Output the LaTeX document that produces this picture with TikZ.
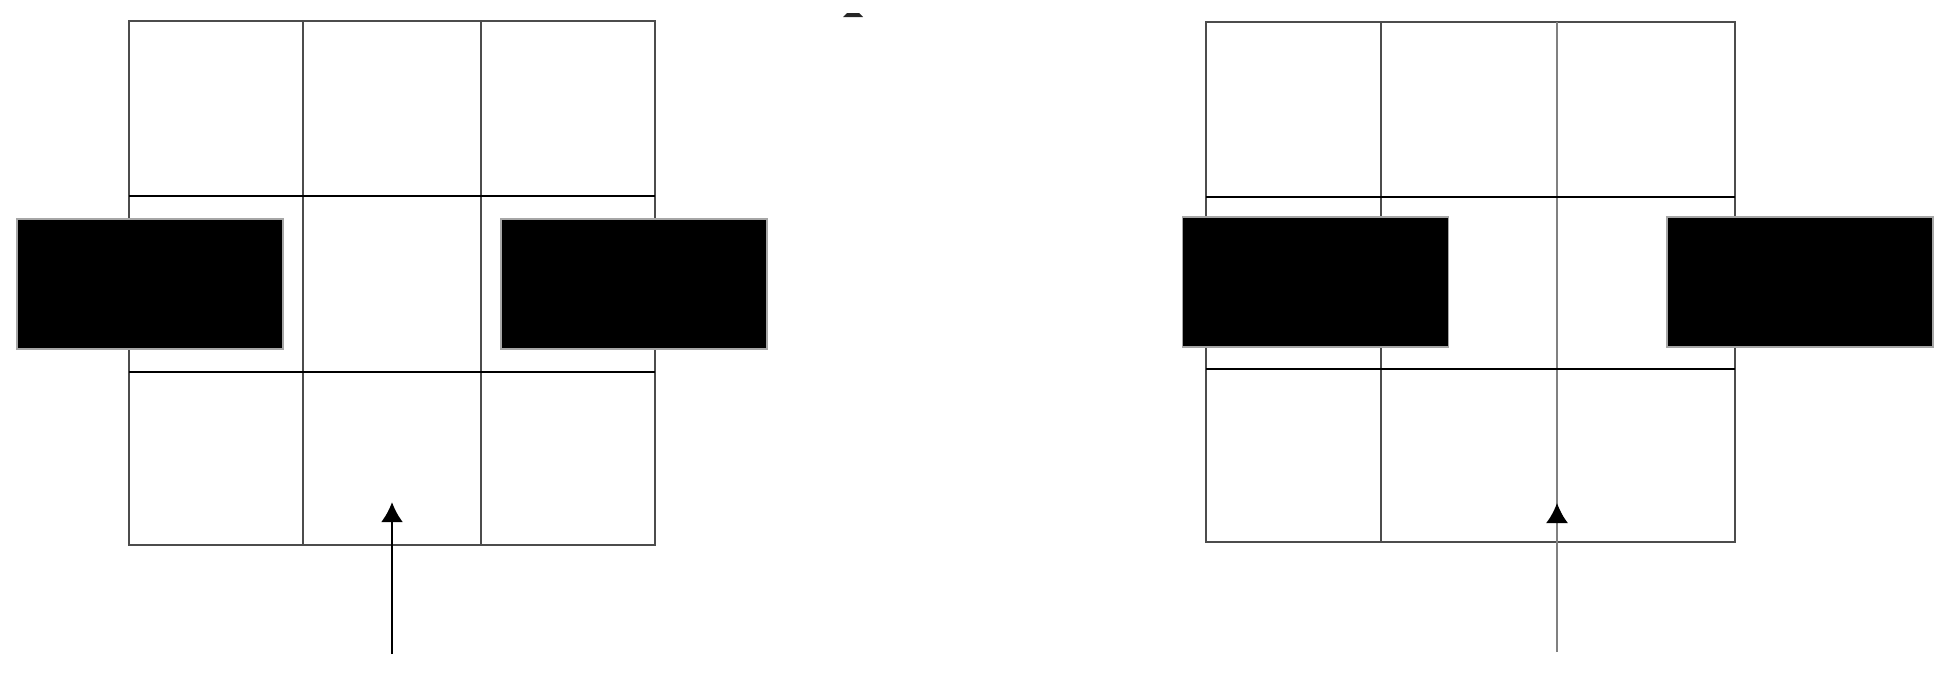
\documentclass[tikz,border=0pt]{standalone}
\usetikzlibrary{arrows.meta}
\tikzset{
  frame/.style={draw=black!70,line width=0.75pt},
  rowline/.style={draw=black,line width=0.7pt},
  block/.style={fill=black,draw=black!35,line width=0.4pt,inner sep=0pt,outer sep=0pt,
    minimum width=2.66cm,minimum height=1.3cm},
  push/.style={-{Latex[length=2mm,width=2.2mm,black]},line width=0.8pt}
}
\begin{document}
\begin{tikzpicture}[x=0.01cm,y=-0.01cm]
      \useasboundingbox (0,0) rectangle (1949,678);
      % left grid
      \draw[frame] (129,21) rectangle (655,545);
      \draw[frame] (303,21) -- (303,545);
      \draw[frame] (481,21) -- (481,545);
      \draw[rowline] (129,196) -- (655,196);
      \draw[rowline] (129,372) -- (655,372);
      \node[block] (lb1) at (150,284) {};
      \node[block] (lb2) at (634,284) {};
      \coordinate (la0) at (392,654);
      \coordinate (la1) at (392,502);
      \draw[push,draw=black] (la0) -- (la1);
      % mark at the top
      \fill[black!85] (843,17) -- (847,13) -- (859,13) -- (863,17) -- cycle;
      % right grid
      \draw[frame] (1206,22) rectangle (1735,542);
      \draw[frame] (1381,22) -- (1381,542);
      \draw[draw=black!50,line width=0.6pt] (1557,22) -- (1557,542);
      \draw[rowline] (1206,197) -- (1735,197);
      \draw[rowline] (1206,369) -- (1735,369);
      \node[block] (rb1) at (1315.5,282) {};
      \node[block] (rb2) at (1800,282) {};
      \coordinate (ra0) at (1557,652);
      \coordinate (ra1) at (1557,503);
      \draw[push,draw=black!50,line width=0.6pt] (ra0) -- (ra1);
\end{tikzpicture}
\end{document}
